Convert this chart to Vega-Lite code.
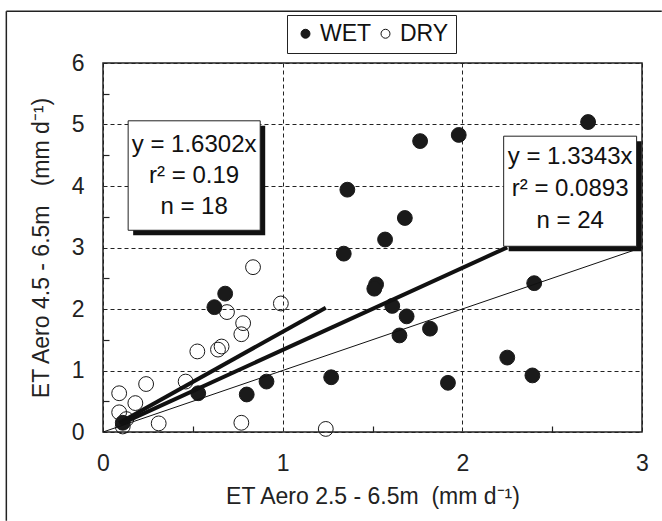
{
  "$schema": "https://vega.github.io/schema/vega-lite/v6.json",
  "width": 539,
  "height": 369,
  "autosize": {"type": "none"},
  "padding": {"left": 103, "top": 63, "right": 20, "bottom": 89},
  "background": "white",
  "config": {
    "font": "Liberation Sans",
    "view": {"stroke": "#222", "strokeWidth": 1.5},
    "axis": {
      "labelFont": "Liberation Sans",
      "titleFont": "Liberation Sans",
      "labelFontSize": 23,
      "titleFontSize": 23,
      "titleFontWeight": "normal",
      "labelColor": "#222",
      "titleColor": "#222",
      "domain": false,
      "ticks": false,
      "labelFlush": false,
      "format": "d"
    }
  },
  "resolve": {"axis": {"x": "independent", "y": "independent"}},
  "datasets": {
    "pts": [
      {"group": "WET", "x": 2.70, "y": 5.04},
      {"group": "WET", "x": 1.98, "y": 4.83},
      {"group": "WET", "x": 1.765, "y": 4.73},
      {"group": "WET", "x": 1.36, "y": 3.94},
      {"group": "WET", "x": 1.68, "y": 3.48},
      {"group": "WET", "x": 1.57, "y": 3.13},
      {"group": "WET", "x": 1.34, "y": 2.90},
      {"group": "WET", "x": 1.52, "y": 2.40},
      {"group": "WET", "x": 1.51, "y": 2.33},
      {"group": "WET", "x": 2.40, "y": 2.42},
      {"group": "WET", "x": 1.61, "y": 2.05},
      {"group": "WET", "x": 1.69, "y": 1.88},
      {"group": "WET", "x": 1.82, "y": 1.68},
      {"group": "WET", "x": 1.65, "y": 1.57},
      {"group": "WET", "x": 2.25, "y": 1.21},
      {"group": "WET", "x": 2.39, "y": 0.92},
      {"group": "WET", "x": 1.92, "y": 0.80},
      {"group": "WET", "x": 1.27, "y": 0.89},
      {"group": "WET", "x": 0.91, "y": 0.82},
      {"group": "WET", "x": 0.80, "y": 0.61},
      {"group": "WET", "x": 0.53, "y": 0.63},
      {"group": "WET", "x": 0.68, "y": 2.25},
      {"group": "WET", "x": 0.62, "y": 2.03},
      {"group": "WET", "x": 0.11, "y": 0.15},
      {"group": "DRY", "x": 0.835, "y": 2.68},
      {"group": "DRY", "x": 0.99, "y": 2.09},
      {"group": "DRY", "x": 0.69, "y": 1.95},
      {"group": "DRY", "x": 0.78, "y": 1.77},
      {"group": "DRY", "x": 0.77, "y": 1.59},
      {"group": "DRY", "x": 0.66, "y": 1.39},
      {"group": "DRY", "x": 0.64, "y": 1.34},
      {"group": "DRY", "x": 0.525, "y": 1.31},
      {"group": "DRY", "x": 0.24, "y": 0.78},
      {"group": "DRY", "x": 0.46, "y": 0.82},
      {"group": "DRY", "x": 0.09, "y": 0.63},
      {"group": "DRY", "x": 0.18, "y": 0.47},
      {"group": "DRY", "x": 0.09, "y": 0.32},
      {"group": "DRY", "x": 0.13, "y": 0.21},
      {"group": "DRY", "x": 0.11, "y": 0.09},
      {"group": "DRY", "x": 0.31, "y": 0.14},
      {"group": "DRY", "x": 0.77, "y": 0.15},
      {"group": "DRY", "x": 1.24, "y": 0.05}
    ],
    "fits": [
      {"line": "one", "x": 0, "y": 0},
      {"line": "one", "x": 3, "y": 3},
      {"line": "dry", "x": 0.09, "y": 0.147},
      {"line": "dry", "x": 1.24, "y": 2.021},
      {"line": "wet", "x": 0.10, "y": 0.133},
      {"line": "wet", "x": 2.25, "y": 3.002}
    ],
    "one": [{}]
  },
  "layer": [
    {
      "data": {"name": "one"},
      "mark": {"type": "rule", "stroke": "#222", "strokeWidth": 1.5, "clip": false},
      "encoding": {
        "x": {"datum": -0.538, "scale": {"domain": [0, 3], "nice": false, "zero": false},
          "axis": {"orient": "top", "offset": -369, "values": [0.5, 1.5, 2.5], "labels": false, "grid": false, "title": null, "ticks": true, "tickSize": 6, "tickColor": "#222", "tickWidth": 1.2, "domain": false}},
        "y": {"datum": 6.84, "scale": {"domain": [0, 6], "nice": false, "zero": false},
          "axis": {"orient": "right", "offset": -539, "values": [0.5, 1.5, 2.5, 3.5, 4.5, 5.5], "labels": false, "grid": false, "title": null, "ticks": true, "tickSize": 6, "tickColor": "#222", "tickWidth": 1.2, "domain": false}},
        "y2": {"datum": -1.445}
      }
    },
    {
      "data": {"name": "one"},
      "mark": {"type": "rule", "stroke": "#222", "strokeWidth": 1.5, "clip": false},
      "encoding": {
        "x": {"datum": -0.538, "axis": null},
        "x2": {"datum": 3.11},
        "y": {"datum": 6.84, "axis": null}
      }
    },
    {
      "data": {"name": "pts"},
      "mark": {"type": "point", "shape": "circle", "filled": true, "stroke": "#1a1a1a", "strokeWidth": 1, "size": 220, "opacity": 1},
      "encoding": {
        "x": {
          "field": "x", "type": "quantitative",
          "scale": {"domain": [0, 3], "nice": false, "zero": false},
          "axis": {
            "orient": "bottom",
            "title": "ET Aero 2.5 - 6.5m\u00a0\u00a0(mm d⁻¹)",
            "values": [0, 1, 2, 3],
            "labelPadding": 20,
            "titlePadding": 10,
            "grid": true,
            "gridColor": "#222",
            "gridDash": [4, 3],
            "gridWidth": 1
          }
        },
        "y": {
          "field": "y", "type": "quantitative",
          "scale": {"domain": [0, 6], "nice": false, "zero": false},
          "axis": {
            "orient": "left",
            "title": "ET Aero 4.5 - 6.5m\u00a0\u00a0\u00a0(mm d⁻¹)",
            "values": [0, 1, 2, 3, 4, 5, 6],
            "labelPadding": 19,
            "titlePadding": 18,
            "grid": true,
            "gridColor": "#222",
            "gridDash": [4, 3],
            "gridWidth": 1
          }
        },
        "fill": {
          "field": "group", "type": "nominal",
          "scale": {"domain": ["WET", "DRY"], "range": ["#1a1a1a", "rgba(255,255,255,0)"]},
          "legend": {
            "title": null,
            "orient": "none",
            "legendX": 184,
            "legendY": -48,
            "direction": "horizontal",
            "columns": 2,
            "labelFontSize": 23,
            "labelFont": "Liberation Sans",
            "labelColor": "#111",
            "symbolSize": 80,
            "symbolStrokeColor": "#111",
            "symbolStrokeWidth": 1,
            "symbolType": "circle",
            "labelOffset": 3,
            "columnPadding": 2,
            "padding": 7,
            "strokeColor": "#222",
            "fillColor": "white"
          }
        }
      }
    },
    {
      "data": {"name": "fits"},
      "transform": [{"filter": "datum.line === 'one'"}],
      "mark": {"type": "line", "color": "#111", "strokeWidth": 1},
      "encoding": {
        "x": {"field": "x", "type": "quantitative", "axis": null},
        "y": {"field": "y", "type": "quantitative", "axis": null}
      }
    },
    {
      "data": {"name": "fits"},
      "transform": [{"filter": "datum.line !== 'one'"}],
      "mark": {"type": "line", "color": "#111", "strokeWidth": 4},
      "encoding": {
        "x": {"field": "x", "type": "quantitative", "axis": null},
        "y": {"field": "y", "type": "quantitative", "axis": null},
        "detail": {"field": "line"}
      }
    },
    {
      "data": {"name": "one"},
      "mark": {"type": "rect", "fill": "#111", "xOffset": 5, "x2Offset": 5, "yOffset": 5, "y2Offset": 5},
      "encoding": {
        "x": {"datum": 0.14, "axis": null}, "x2": {"datum": 0.875},
        "y": {"datum": 5.06, "axis": null}, "y2": {"datum": 3.28}
      }
    },
    {
      "data": {"name": "one"},
      "mark": {"type": "rect", "fill": "white", "stroke": "#222", "strokeWidth": 1},
      "encoding": {
        "x": {"datum": 0.14, "axis": null}, "x2": {"datum": 0.875},
        "y": {"datum": 5.06, "axis": null}, "y2": {"datum": 3.28}
      }
    },
    {
      "data": {"name": "one"},
      "mark": {"type": "text", "fontSize": 24, "font": "Liberation Sans", "color": "#111", "align": "center", "baseline": "middle", "lineHeight": 31},
      "encoding": {
        "x": {"datum": 0.507, "axis": null},
        "y": {"datum": 4.667, "axis": null},
        "text": {"value": ["y = 1.6302x", "r² = 0.19", "n = 18"]}
      }
    },
    {
      "data": {"name": "one"},
      "mark": {"type": "rect", "fill": "#111", "xOffset": 5, "x2Offset": 5, "yOffset": 5, "y2Offset": 5},
      "encoding": {
        "x": {"datum": 2.23, "axis": null}, "x2": {"datum": 2.97},
        "y": {"datum": 4.81, "axis": null}, "y2": {"datum": 3.02}
      }
    },
    {
      "data": {"name": "one"},
      "mark": {"type": "rect", "fill": "white", "stroke": "#222", "strokeWidth": 1},
      "encoding": {
        "x": {"datum": 2.23, "axis": null}, "x2": {"datum": 2.97},
        "y": {"datum": 4.81, "axis": null}, "y2": {"datum": 3.02}
      }
    },
    {
      "data": {"name": "one"},
      "mark": {"type": "text", "fontSize": 24, "font": "Liberation Sans", "color": "#111", "align": "center", "baseline": "middle", "lineHeight": 32},
      "encoding": {
        "x": {"datum": 2.60, "axis": null},
        "y": {"datum": 4.477, "axis": null},
        "text": {"value": ["y = 1.3343x", "r² = 0.0893", "n = 24"]}
      }
    }
  ]
}
